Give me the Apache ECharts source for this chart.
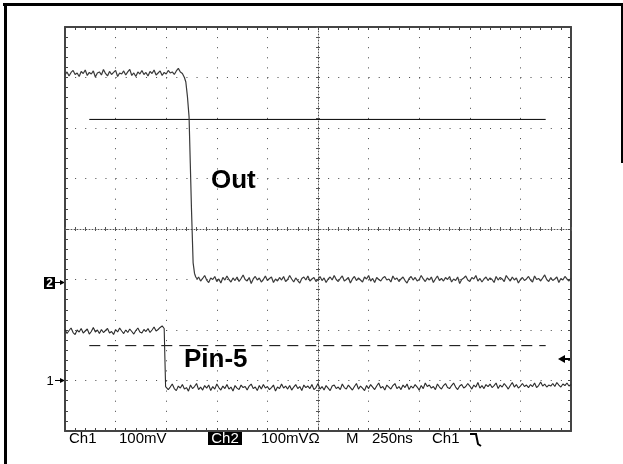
<!DOCTYPE html>
<html><head><meta charset="utf-8">
<script src="https://cdn.jsdelivr.net/npm/echarts@6/dist/echarts.min.js"></script>
<style>html,body{margin:0;padding:0;background:#fff}#c{width:623px;height:464px}</style>
</head><body><div id="c"></div>
<script>
// Horizontal: time in ns (250 ns/div). Vertical: screen position in mV (100 mV/div, centre = 0).
const timeMin = -1250, timeMax = 1250, timeDiv = 250;
const screenMin = -400, screenMax = 400, screenDiv = 100;
const sampleStep = 10;

// "Out" trace (Ch2)
const outHighStart = -1250;
const outHigh = [305,311,303,310,314,306,309,302,312,308,
315,304,310,307,313,301,309,311,305,316,
308,303,312,306,310,314,302,309,307,313,
305,311,316,304,309,302,311,307,314,306,
310,303,312,308,315,305,309,313,304,310,
307,314,309,311,306,313,318,311];
const outEdgeT = [-670,-660,-653,-645,-637,-631,-625,-617,-610,-604,-597];
const outEdgeV = [308,300,291,262,222,130,38,-67,-88,-95,-99];
const outLowStart = -590;
const outLow = [-95,-103,-98,-92,-101,-106,-97,-100,-94,-104,
-99,-107,-96,-101,-93,-100,-105,-97,-102,-95,
-104,-98,-91,-100,-103,-96,-108,-99,-94,-101,
-97,-105,-100,-93,-102,-98,-95,-106,-99,-103,
-96,-101,-94,-104,-100,-92,-99,-105,-97,-102,
-107,-98,-95,-101,-93,-103,-99,-96,-104,-100,
-94,-102,-97,-106,-99,-95,-101,-92,-100,-104,
-98,-93,-103,-100,-96,-107,-99,-94,-102,-97,
-101,-105,-95,-99,-92,-103,-98,-106,-96,-100,
-103,-97,-94,-101,-99,-105,-93,-100,-97,-104,
-99,-95,-102,-107,-98,-94,-101,-96,-103,-100,
-92,-99,-104,-97,-101,-95,-106,-99,-93,-102,
-98,-103,-96,-100,-94,-105,-99,-102,-95,-108,
-100,-97,-93,-101,-104,-96,-99,-92,-103,-98,
-105,-99,-95,-102,-97,-100,-106,-94,-101,-96,
-99,-104,-92,-98,-103,-95,-101,-97,-107,-100,
-96,-102,-99,-94,-101,-105,-93,-100,-98,-103,
-97,-91,-100,-104,-96,-102,-99,-95,-106,-98,
-101,-94,-99,-103,-97];

// "Pin-5" trace (Ch1)
const pinHighStart = -1250;
const pinHigh = [-199,-207,-201,-196,-205,-209,-200,-204,-197,-206,
-202,-198,-208,-203,-195,-204,-200,-207,-199,-205,
-201,-197,-206,-203,-209,-199,-204,-196,-202,-207,
-200,-205,-198,-203,-208,-201,-196,-204,-206,-199,
-203,-197,-205,-200,-194,-202,-199,-195,-192,-197];
const pinEdgeT = [-756,-753];
const pinEdgeV = [-200,-312];
const pinLowStart = -750;
const pinLow = [-310,-318,-313,-307,-316,-320,-311,-315,-308,-317,
-314,-321,-309,-316,-312,-306,-318,-313,-319,-310,
-315,-309,-320,-312,-317,-307,-314,-319,-311,-316,
-308,-317,-313,-321,-310,-315,-318,-309,-314,-312,
-319,-311,-307,-316,-313,-320,-310,-317,-308,-315,
-312,-318,-314,-309,-321,-313,-316,-307,-315,-311,
-317,-310,-319,-313,-308,-316,-312,-320,-309,-314,
-311,-316,-308,-318,-314,-306,-317,-312,-319,-310,
-315,-320,-311,-309,-316,-313,-318,-307,-314,-317,
-309,-314,-319,-312,-306,-317,-311,-315,-320,-310,
-316,-308,-313,-318,-311,-305,-315,-312,-319,-309,
-313,-317,-310,-306,-316,-312,-318,-309,-314,-307,
-318,-311,-315,-308,-313,-319,-310,-316,-305,-312,
-309,-315,-312,-318,-307,-313,-317,-310,-306,-314,
-316,-310,-305,-313,-318,-311,-308,-315,-312,-306,
-311,-317,-309,-313,-304,-315,-310,-316,-308,-312,
-307,-314,-310,-305,-316,-309,-313,-306,-311,-317,
-310,-304,-313,-308,-315,-311,-306,-312,-309,-314,
-308,-312,-305,-314,-310,-303,-311,-307,-313,-309,
-311,-306,-312,-304,-309,-313,-307,-310,-305,-311,
-308];

// cursors
const cursorT = [-1130, 1125];
const cursorSolid = 217;
const cursorDashed = -231;

// status line
const statusLabels = ['Ch1', '100mV', 'Ch2', '100mV\u03A9', 'M', '250ns', 'Ch1'];
const traceLabels = ['Out', 'Pin-5'];

function seg(start, vals) { return vals.map((v, i) => [start + i * sampleStep, v]); }
function pairs(ts, vs) { return ts.map((t, i) => [t, vs[i]]); }

const outData = seg(outHighStart, outHigh).concat(pairs(outEdgeT, outEdgeV), seg(outLowStart, outLow));
const pinData = seg(pinHighStart, pinHigh).concat(pairs(pinEdgeT, pinEdgeV), seg(pinLowStart, pinLow));

const borderColor = '#444';
const dotColor = '#444';

function borderAxis(dim, pos, withSplit) {
  const isX = dim === 'x';
  return {
    type: 'value', position: pos,
    min: isX ? timeMin : screenMin, max: isX ? timeMax : screenMax,
    interval: isX ? timeDiv : screenDiv,
    axisLine: { show: true, onZero: false, lineStyle: { color: borderColor, width: 2 } },
    axisTick: { show: true, inside: true, length: 3, lineStyle: { color: borderColor, width: 1 } },
    minorTick: { show: true, splitNumber: 5, length: 3, lineStyle: { color: borderColor, width: 1 } },
    axisLabel: { show: false },
    splitLine: { show: withSplit, lineStyle: { color: dotColor, width: 1, type: isX ? [1, 9.1] : [1, 9.12] } },
    minorSplitLine: { show: false }
  };
}
function centreAxis(dim, pos, lineShow) {
  const isX = dim === 'x';
  return {
    type: 'value', position: pos,
    min: isX ? timeMin : screenMin, max: isX ? timeMax : screenMax,
    interval: isX ? timeDiv : screenDiv,
    axisLine: { show: lineShow, onZero: true, onZeroAxisIndex: 0, lineStyle: { color: '#555', width: 1, type: [1, 2] } },
    axisTick: { show: true, inside: false, length: 2, lineStyle: { color: '#555', width: 1 } },
    minorTick: { show: true, splitNumber: 5, length: 2, lineStyle: { color: '#555', width: 1 } },
    axisLabel: { show: false },
    splitLine: { show: false }, minorSplitLine: { show: false }
  };
}

const chart = echarts.init(document.getElementById('c'), null, { renderer: 'canvas' });

const txtFont = '15px "Liberation Sans", Arial, sans-serif';
const status = [
  { x: 69, t: statusLabels[0] }, { x: 119, t: statusLabels[1] },
  { x: 261, t: statusLabels[3] }, { x: 346, t: statusLabels[4] },
  { x: 372, t: statusLabels[5] }, { x: 432, t: statusLabels[6] }
];
const graphics = [
  // outer frame (scanned border: right edge only visible near the top)
  { type: 'rect', shape: { x: 3, y: 3, width: 620, height: 3 }, style: { fill: '#000' }, silent: true },
  { type: 'rect', shape: { x: 4, y: 3, width: 3, height: 461 }, style: { fill: '#000' }, silent: true },
  { type: 'rect', shape: { x: 621, y: 3, width: 2, height: 160 }, style: { fill: '#000' }, silent: true },
  // trace labels
  { type: 'text', x: 211, y: 181, style: { text: traceLabels[0], font: 'bold 26px "Liberation Sans", Arial, sans-serif', fill: '#000', verticalAlign: 'middle', align: 'left' } },
  { type: 'text', x: 184, y: 360, style: { text: traceLabels[1], font: 'bold 26px "Liberation Sans", Arial, sans-serif', fill: '#000', verticalAlign: 'middle', align: 'left' } },
  // channel 2 ground marker
  { type: 'rect', shape: { x: 44, y: 277, width: 11, height: 12 }, style: { fill: '#000' } },
  { type: 'text', x: 49.5, y: 283.5, style: { text: '2', font: 'bold 12px "Liberation Sans", Arial, sans-serif', fill: '#fff', align: 'center', verticalAlign: 'middle' } },
  { type: 'line', shape: { x1: 55, y1: 282.5, x2: 62, y2: 282.5 }, style: { stroke: '#000', lineWidth: 1 } },
  { type: 'polygon', shape: { points: [[60, 280], [65, 282.5], [60, 285]] }, style: { fill: '#000' } },
  // channel 1 ground marker
  { type: 'text', x: 50, y: 381, style: { text: '1', font: '13px "Liberation Sans", Arial, sans-serif', fill: '#000', align: 'center', verticalAlign: 'middle' } },
  { type: 'line', shape: { x1: 55, y1: 380.5, x2: 62, y2: 380.5 }, style: { stroke: '#000', lineWidth: 1 } },
  { type: 'polygon', shape: { points: [[60, 378], [65, 380.5], [60, 383]] }, style: { fill: '#000' } },
  // trigger level arrow
  { type: 'polygon', shape: { points: [[558, 359], [565, 355], [565, 363]] }, style: { fill: '#000' } },
  { type: 'line', shape: { x1: 564, y1: 359, x2: 570, y2: 359 }, style: { stroke: '#000', lineWidth: 2 } },
  // status line
  { type: 'rect', shape: { x: 208, y: 431, width: 34, height: 14 }, style: { fill: '#000' } },
  { type: 'text', x: 225, y: 438.5, style: { text: statusLabels[2], font: txtFont, fill: '#fff', align: 'center', verticalAlign: 'middle' } },
  { type: 'polyline', shape: { points: [[470, 434], [476, 434], [478, 444], [481, 446]] }, style: { stroke: '#000', lineWidth: 2, fill: null } }
];
status.forEach(s => graphics.push({ type: 'text', x: s.x, y: 438.5, style: { text: s.t, font: txtFont, fill: '#000', align: 'left', verticalAlign: 'middle' } }));

chart.setOption({
  animation: false,
  backgroundColor: '#fff',
  grid: { left: 65, right: 52, top: 27, bottom: 33, containLabel: false },
  xAxis: [
    borderAxis('x', 'bottom', true),
    borderAxis('x', 'top', false),
    centreAxis('x', 'bottom', true),
    centreAxis('x', 'top', false)
  ],
  yAxis: [
    borderAxis('y', 'left', true),
    borderAxis('y', 'right', false),
    centreAxis('y', 'left', true),
    centreAxis('y', 'right', false)
  ],
  series: [
    { type: 'line', name: 'Out', data: outData, showSymbol: false, xAxisIndex: 0, yAxisIndex: 0,
      lineStyle: { color: '#3a3a3a', width: 1.2 }, silent: true, z: 5 },
    { type: 'line', name: 'Pin-5', data: pinData, showSymbol: false, xAxisIndex: 0, yAxisIndex: 0,
      lineStyle: { color: '#2a2a2a', width: 1.1 }, silent: true, z: 5 },
    { type: 'line', name: 'cursor1', data: cursorT.map(t => [t, cursorSolid]), showSymbol: false,
      lineStyle: { color: '#000', width: 1 }, silent: true, z: 4 },
    { type: 'line', name: 'cursor2', data: cursorT.map(t => [t, cursorDashed]), showSymbol: false,
      lineStyle: { color: '#000', width: 1, type: [11, 7] }, silent: true, z: 4 }
  ],
  graphic: graphics
});
</script>
</body></html>
